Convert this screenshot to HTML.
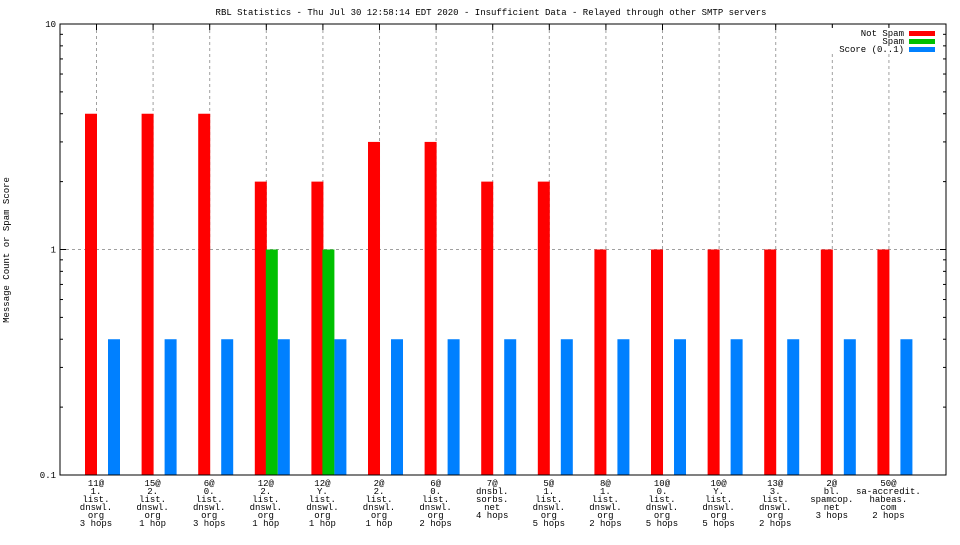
<!DOCTYPE html>
<html><head><meta charset="utf-8"><style>
body{margin:0;background:#fff;}
svg text{font-family:"Liberation Mono",monospace;font-size:9px;fill:#000;}
</style></head><body>
<svg id="chart" width="960" height="540" xmlns="http://www.w3.org/2000/svg">
<text x="491" y="15" text-anchor="middle">RBL Statistics - Thu Jul 30 12:58:14 EDT 2020 - Insufficient Data - Relayed through other SMTP servers</text>
<text transform="translate(9,250) rotate(-90)" text-anchor="middle">Message Count or Spam Score</text>
<g id="grid"></g><g id="bars"></g><g id="axes"></g>
<g>
<rect x="830" y="28" width="110" height="26" fill="#fff"/>
<text x="904" y="36" text-anchor="end">Not Spam</text><rect x="909" y="31" width="26" height="5" fill="#ff0000"/>
<text x="904" y="44" text-anchor="end">Spam</text><rect x="909" y="39" width="26" height="5" fill="#00c000"/>
<text x="904" y="52" text-anchor="end">Score (0..1)</text><rect x="909" y="47" width="26" height="5" fill="#0080ff"/>
</g>
</svg>
<script>
const categories=[["11@","1.","list.","dnswl.","org","3 hops"],["15@","2.","list.","dnswl.","org","1 hop"],["6@","0.","list.","dnswl.","org","3 hops"],["12@","2.","list.","dnswl.","org","1 hop"],["12@","Y.","list.","dnswl.","org","1 hop"],["2@","2.","list.","dnswl.","org","1 hop"],["6@","0.","list.","dnswl.","org","2 hops"],["7@","dnsbl.","sorbs.","net","4 hops"],["5@","1.","list.","dnswl.","org","5 hops"],["8@","1.","list.","dnswl.","org","2 hops"],["10@","0.","list.","dnswl.","org","5 hops"],["10@","Y.","list.","dnswl.","org","5 hops"],["13@","3.","list.","dnswl.","org","2 hops"],["2@","bl.","spamcop.","net","3 hops"],["50@","sa-accredit.","habeas.","com","2 hops"]];
const notSpam=[4,4,4,2,2,3,3,2,2,1,1,1,1,1,1];
const spam=[0,0,0,1,1,0,0,0,0,0,0,0,0,0,0];
const score=[0.4,0.4,0.4,0.4,0.4,0.4,0.4,0.4,0.4,0.4,0.4,0.4,0.4,0.4,0.4];
const yTicks=[0.1,1,10];
const yTickLabels=["0.1","1","10"];
const NS="http://www.w3.org/2000/svg";
const L=60,R=946,T=24,B=475;
function y(v){return B-(Math.log10(v)+1)/2*(B-T);}
function gx(i){return 85+i*(R-L-20)/15.3;}
function mk(t,a,p){const e=document.createElementNS(NS,t);for(const k in a)e.setAttribute(k,a[k]);p.appendChild(e);return e;}
const grid=document.getElementById('grid'),bars=document.getElementById('bars'),axes=document.getElementById('axes');
yTicks.forEach((v,i)=>{
  if(v>0.1&&v<10){const g=mk('line',{x1:L,x2:R,y1:y(v),y2:y(v),stroke:'#a0a0a0','stroke-dasharray':'3,3'},grid);
  
  }
  mk('line',{x1:L,x2:L+6,y1:y(v),y2:y(v),stroke:'#000'},axes);
  mk('line',{x1:R,x2:R-6,y1:y(v),y2:y(v),stroke:'#000'},axes);
  const t=mk('text',{x:L-4,y:y(v)+3,'text-anchor':'end'},axes);t.textContent=yTickLabels[i];
  
  
});
for(let d=0.1;d<10;d*=10){for(let m=2;m<10;m++){const yy=y(d*m);
mk('line',{x1:L,x2:L+3,y1:yy,y2:yy,stroke:'#000'},axes);mk('line',{x1:R,x2:R-3,y1:yy,y2:yy,stroke:'#000'},axes);}}
function bar(v,x,c,name){if(v<=0)return;const r=mk('rect',{x:x,y:y(v),width:12,height:B-y(v),fill:c},bars);

}
categories.forEach((c,i)=>{
  const x=gx(i);
  const g=mk('line',{x1:x+11.5,x2:x+11.5,y1:T,y2:y(1),stroke:'#a0a0a0','stroke-dasharray':'3,3'},grid);
  
  
  mk('line',{x1:x+11.5,x2:x+11.5,y1:T,y2:T+6,stroke:'#000'},axes);
  bar(notSpam[i],x,'#ff0000','bar-not-spam');
  bar(spam[i],x+11,'#00c000','bar-spam');
  bar(score[i],x+23,'#0080ff','bar-score');
  const t=mk('text',{x:x+11,y:486,'text-anchor':'middle'},axes);
  
  
  c.forEach((s,j)=>{const ts=mk('tspan',{x:x+11,dy:j?8:0},t);ts.textContent=s;});
});
const fr=mk('rect',{x:L,y:T,width:R-L,height:B-T,fill:'none',stroke:'#000'},axes);


</script>
</body></html>
